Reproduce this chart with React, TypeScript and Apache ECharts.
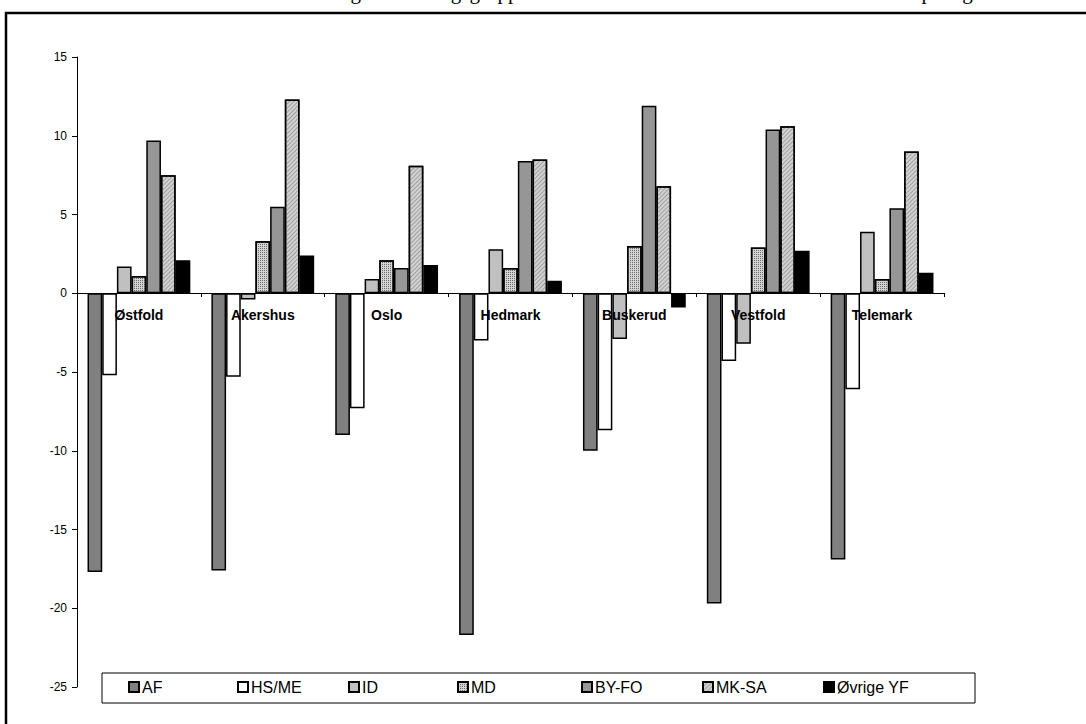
import React, { useEffect, useRef } from 'react';
import * as echarts from 'echarts';

const categories = ['Østfold', 'Akershus', 'Oslo', 'Hedmark', 'Buskerud', 'Vestfold', 'Telemark'];
const seriesNames = ['AF', 'HS/ME', 'ID', 'MD', 'BY-FO', 'MK-SA', 'Øvrige YF'];
const afValues = [-17.7, -17.6, -9.0, -21.7, -10.0, -19.7, -16.9];
const hsmeValues = [-5.2, -5.3, -7.3, -3.0, -8.7, -4.3, -6.1];
const idValues = [1.7, -0.4, 0.9, 2.8, -2.9, -3.2, 3.9];
const mdValues = [1.1, 3.3, 2.1, 1.6, 3.0, 2.9, 0.9];
const byfoValues = [9.7, 5.5, 1.6, 8.4, 11.9, 10.4, 5.4];
const mksaValues = [7.5, 12.3, 8.1, 8.5, 6.8, 10.6, 9.0];
const ovrigeValues = [2.1, 2.4, 1.8, 0.8, -0.9, 2.7, 1.3];
const yTicks = { min: -25, max: 15, interval: 5 };
const titleText = 'Endring i utdanningsgruppenes andel av søkerne fra 2006 til 2007. Prosentpoeng';

const allValues = [afValues, hsmeValues, idValues, mdValues, byfoValues, mksaValues, ovrigeValues];
const fills = ['#808080', '#ffffff', '#c0c0c0', '#d4d4d4', '#969696', '#d2d2d2', '#000000'];
const decals: any[] = [
  undefined,
  undefined,
  undefined,
  { symbol: 'rect', symbolSize: 1, color: '#6a6a6a', dashArrayX: [1, 1], dashArrayY: [1, 1] },
  undefined,
  { symbol: 'rect', symbolSize: 1, color: '#a0a0a0', dashArrayX: [1, 0], dashArrayY: [1, 2], rotation: -Math.PI / 4 },
  undefined,
];
const legendLefts = [128, 237, 348, 457, 581, 702, 823];

export default function App() {
  const ref = useRef<HTMLDivElement>(null);
  useEffect(() => {
    const chart = echarts.init(ref.current!, null, { renderer: 'svg' });
    const series = seriesNames.map((name, i) => {
      const itemStyle: any = { color: fills[i], borderColor: '#000', borderWidth: 1.5 };
      if (decals[i]) itemStyle.decal = decals[i];
      return {
        name,
        type: 'bar',
        data: allValues[i],
        barGap: '0%',
        barCategoryGap: '17%',
        itemStyle,
      };
    });
    const legends = seriesNames.map((name, i) => ({
      data: [{ name, icon: 'rect' }],
      left: legendLefts[i],
      top: 679,
      padding: 0,
      itemWidth: 10,
      itemHeight: 10,
      itemGap: 4,
      selectedMode: false,
      textStyle: {
        fontFamily: '"Liberation Sans Narrow", "Liberation Sans", Arial, sans-serif',
        fontSize: 16,
        color: '#000',
        padding: [0, 0, 0, -2],
      },
    }));
    chart.setOption({
      animation: false,
      backgroundColor: '#fff',
      grid: { left: 77, right: 142, top: 57, bottom: 37, containLabel: false },
      xAxis: {
        type: 'category',
        data: categories,
        position: 'bottom',
        offset: -394,
        z: 10,
        axisLine: { onZero: false, lineStyle: { color: '#000', width: 1 } },
        axisTick: { show: true, inside: false, length: 4, lineStyle: { color: '#000' } },
        axisLabel: {
          interval: 0,
          margin: 15,
          fontFamily: '"Liberation Sans", Arial, sans-serif',
          fontWeight: 'bold',
          fontSize: 14,
          color: '#000',
        },
      },
      yAxis: {
        type: 'value',
        min: yTicks.min,
        max: yTicks.max,
        interval: yTicks.interval,
        splitLine: { show: false },
        axisLine: { show: true, lineStyle: { color: '#000', width: 1 } },
        axisTick: { show: true, inside: false, length: 5, lineStyle: { color: '#000' } },
        axisLabel: {
          margin: 10,
          fontFamily: '"Liberation Sans", Arial, sans-serif',
          fontSize: 12,
          color: '#000',
        },
      },
      legend: legends,
      series,
      graphic: [
        {
          type: 'polyline',
          shape: { points: [[6, 724], [6, 13], [1086, 13]] },
          style: { stroke: '#000', lineWidth: 2.5, fill: 'none' },
          silent: true,
        },
        {
          type: 'rect',
          shape: { x: 102, y: 673, width: 873, height: 30 },
          style: { stroke: '#000', lineWidth: 1, fill: 'none' },
          silent: true,
        },
        {
          type: 'text',
          x: 633,
          y: 2.5,
          style: {
            text: titleText,
            font: '21px "Liberation Serif", "Times New Roman", serif',
            fill: '#000',
            align: 'center',
            verticalAlign: 'bottom',
          },
          silent: true,
        },
      ],
    });
    return () => chart.dispose();
  }, []);
  return <div ref={ref} style={{ position: 'fixed', left: 0, top: 0, width: 1086, height: 724 }} />;
}
